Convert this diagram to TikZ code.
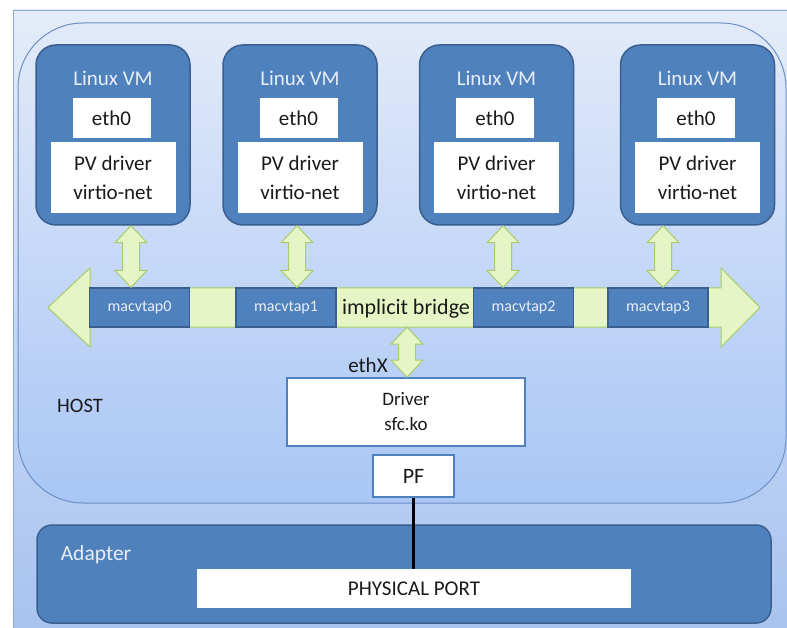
\documentclass[tikz,border=0pt]{standalone}
\usepackage{fontspec}
\setmainfont{Carlito}
\usetikzlibrary{calc}
\definecolor{bgtop}{HTML}{E4ECF8}
\definecolor{bgbot}{HTML}{A8C3F0}
\definecolor{outerline}{HTML}{8FA9D4}
\definecolor{hosttop}{HTML}{E1EAF9}
\definecolor{hostbot}{HTML}{A9C6F5}
\definecolor{hostline}{HTML}{6D8FC4}
\definecolor{vmblue}{HTML}{4F81BD}
\definecolor{vmborder}{HTML}{3A5F8E}
\definecolor{arrfill}{HTML}{E6F5C6}
\definecolor{arrborder}{HTML}{A9CC6A}
\definecolor{txt}{HTML}{1A1A1A}
\definecolor{lbl}{HTML}{E8EEF8}
\newcommand\vdarrow[3]{%
  \path[greenarrow] let \p1=(#1), \p2=(#2), \p3=(#3,0) in
    (\x3,\y1) -- (\x3+16pt,\y1-17pt) -- (\x3+8.5pt,\y1-17pt) -- (\x3+8.5pt,\y2+17pt)
    -- (\x3+16pt,\y2+17pt) -- (\x3,\y2) -- (\x3-16pt,\y2+17pt) -- (\x3-8.5pt,\y2+17pt)
    -- (\x3-8.5pt,\y1-17pt) -- (\x3-16pt,\y1-17pt) -- cycle;}
\begin{document}
\begin{tikzpicture}[x=1pt,y=-1pt,
  vm/.style={draw=vmborder, line width=1.5pt, fill=vmblue, rounded corners=20pt,
    minimum width=154, minimum height=180, inner sep=0},
  vmlabel/.style={text=lbl, font=\fontsize{21}{24}\selectfont},
  whitebox/.style={fill=white, inner sep=0, text=txt, align=center},
  tap/.style={draw=vmborder, line width=1.2pt, fill=vmblue, text=lbl, inner sep=0,
    minimum width=100, minimum height=39, font=\fontsize{16}{18}\selectfont},
  bluebox/.style={draw=vmblue, line width=1.8pt, fill=white, text=txt, inner sep=0, align=center},
  greenarrow/.style={fill=arrfill, draw=arrborder, line width=1pt, line join=miter},
  darktext/.style={text=txt, font=\fontsize{21}{24}\selectfont}]
\useasboundingbox (0,0) rectangle (787,628);
% background
\path[top color=bgtop, bottom color=bgbot, draw=outerline, line width=0.8pt] (13,10) rectangle (792,633);
% host
\path[top color=hosttop, bottom color=hostbot, draw=hostline, line width=1pt, rounded corners=65pt] (18,23) rectangle (786,503);
% VMs
\foreach \i/\cx in {1/113, 2/300, 3/496.5, 4/697.5} {
  \node[vm] (vm\i) at (\cx,135) {};
  \node[vmlabel] (vml\i) at (\cx,78) {Linux VM};
  \node[whitebox, minimum width=78, minimum height=40, font=\fontsize{21}{24}\selectfont] (eth\i) at (\cx-1.5,118) {eth0};
  \node[whitebox, minimum width=125, minimum height=71, font=\fontsize{21}{29}\selectfont] (pv\i) at (\cx,177.5) {PV driver\\virtio-net};
}
% bridge
\path[greenarrow] (48,307.5) -- (90,268) -- (90,288) -- (721,288) -- (721,268) -- (760,307.5)
  -- (721,347) -- (721,327) -- (90,327) -- (90,347) -- cycle;
\node[minimum width=631, minimum height=39, inner sep=0] (bridge) at (405.5,307.5) {};
\node[darktext, font=\fontsize{22}{24}\selectfont] (bridgetext) at (406,309) {implicit bridge};
\node[tap] (tap0) at (139.5,307.5) {macvtap0};
\node[tap] (tap1) at (286,307.5) {macvtap1};
\node[tap] (tap2) at (523.5,307.5) {macvtap2};
\node[tap] (tap3) at (658,307.5) {macvtap3};
% driver and PF
\node[bluebox, minimum width=238, minimum height=68, font=\fontsize{19}{25}\selectfont] (driver) at (406,412) {Driver\\sfc.ko};
\node[bluebox, minimum width=81, minimum height=42, font=\fontsize{22}{24}\selectfont] (pf) at (413.5,476) {PF};
\node[darktext] (ethx) at (368,365) {ethX};
\node[darktext, font=\fontsize{20.5}{24}\selectfont] (host) at (80,406) {HOST};
% arrows
\vdarrow{vm1.south}{tap0.north}{131}
\vdarrow{vm2.south}{tap1.north}{297}
\vdarrow{vm3.south}{tap2.north}{503}
\vdarrow{vm4.south}{tap3.north}{663}
\vdarrow{bridge.south}{driver.north}{407}
% adapter
\node[draw=vmborder, line width=1.5pt, fill=vmblue, rounded corners=15pt, minimum width=734, minimum height=98, inner sep=0] (adapter) at (404,574) {};
\node[vmlabel, font=\fontsize{21.5}{24}\selectfont] (adlabel) at (96,555) {Adapter};
\node[whitebox, minimum width=434, minimum height=39, font=\fontsize{21}{24}\selectfont] (port) at (414,588.5) {PHYSICAL PORT};
\draw[line width=2.5pt, black] (pf.south) -- (pf.south |- port.north);
\end{tikzpicture}
\end{document}
